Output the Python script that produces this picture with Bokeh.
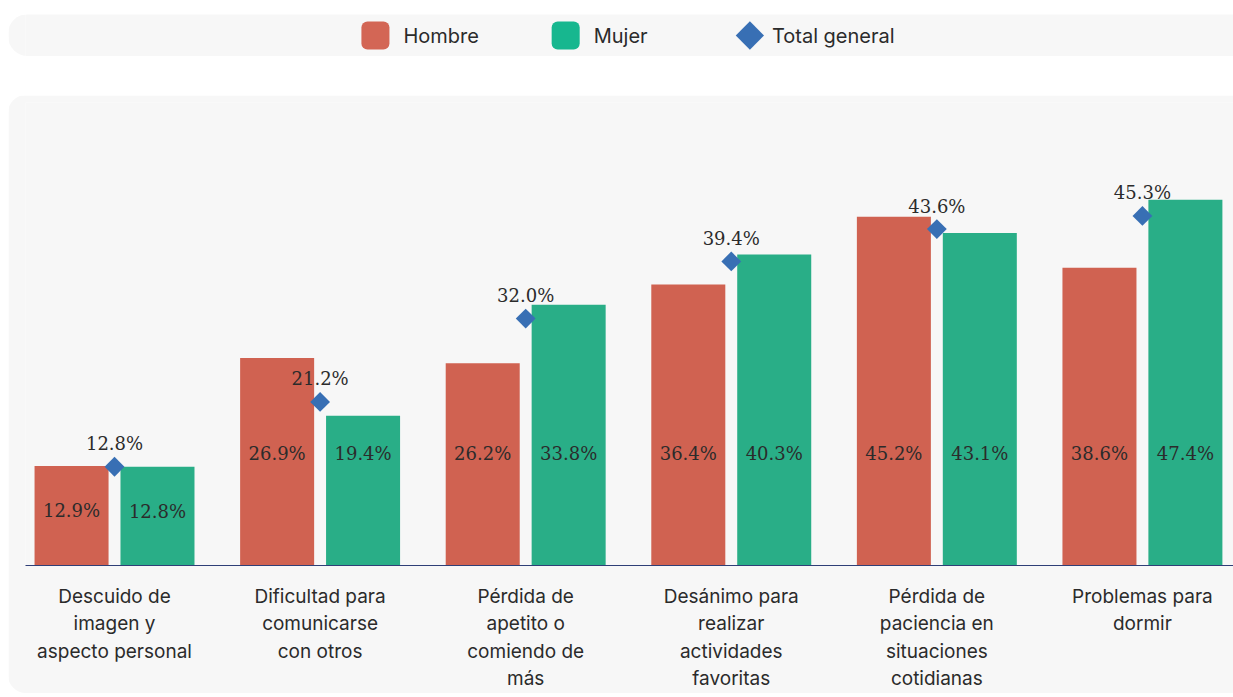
import numpy as np
from bokeh.plotting import figure
from bokeh.models import ColumnDataSource, FixedTicker, Range1d, Spacer
from bokeh.layouts import column, row
from bokeh.embed import file_html
from bokeh.resources import INLINE
from bokeh.core.properties import value

categories = [
    "Descuido de\nimagen y\naspecto personal",
    "Dificultad para\ncomunicarse\ncon otros",
    "Pérdida de\napetito o\ncomiendo de\nmás",
    "Desánimo para\nrealizar\nactividades\nfavoritas",
    "Pérdida de\npaciencia en\nsituaciones\ncotidianas",
    "Problemas para\ndormir",
]
hombre = [12.9, 26.9, 26.2, 36.4, 45.2, 38.6]
mujer = [12.8, 19.4, 33.8, 40.3, 43.1, 47.4]
total = [12.8, 21.2, 32.0, 39.4, 43.6, 45.3]
series_names = ["Hombre", "Mujer", "Total general"]

HOMBRE_C = "#d06251"
MUJER_C = "#29ae87"
HOMBRE_LEG = "#d36655"
MUJER_LEG = "#17b78f"
TOTAL_C = "#386fb4"
PANEL = "#f7f7f7"
TXT = "#2b2b2b"
SANS = "Inter"

idx = np.arange(len(categories))
h = np.array(hombre)
m = np.array(mujer)
t = np.array(total)
off = 0.209
bw = 0.36


def label_pos(v):
    return np.where(v > 18, 14.5, v * 0.55)


src = ColumnDataSource(dict(
    x=idx, xh=idx - off, xm=idx + off, h=h, m=m, t=t,
    hl=label_pos(h), ml=label_pos(m),
    htxt=[f"{v:.1f}%" for v in h], mtxt=[f"{v:.1f}%" for v in m],
    ttxt=[f"{v:.1f}%" for v in t],
))

p = figure(width=1225, height=598, x_range=Range1d(-0.433, 5.443), y_range=Range1d(0, 60),
           output_backend="svg", toolbar_location=None,
           min_border_left=17, min_border_right=0, min_border_top=7, min_border_bottom=128)
p.background_fill_color = PANEL
p.border_fill_color = PANEL
p.outline_line_color = None
p.grid.visible = False
p.yaxis.visible = False
p.styles = {"border-radius": "18px 0 0 18px", "overflow": "hidden"}

p.vbar(x="xh", top="h", width=bw, source=src, fill_color=HOMBRE_C, line_color=None)
p.vbar(x="xm", top="m", width=bw, source=src, fill_color=MUJER_C, line_color=None)
p.scatter(x="x", y="t", source=src, marker="square", angle=np.pi / 4, size=14,
          fill_color=TOTAL_C, line_color=None)

common = dict(text_align="center", text_baseline="middle", text_font=value("DejaVu Serif"),
              text_font_size="18px", text_color=TXT, source=src)
p.text(x="xh", y="hl", text="htxt", **common)
p.text(x="xm", y="ml", text="mtxt", **common)
p.text(x="x", y="t", text="ttxt", y_offset=-23, **common)

ax = p.xaxis[0]
ax.ticker = FixedTicker(ticks=list(idx))
ax.major_label_overrides = {int(i): c for i, c in zip(idx, categories)}
ax.major_label_text_font = SANS
ax.major_label_text_font_size = "19px"
ax.major_label_text_color = TXT
ax.major_label_standoff = 13
ax.major_tick_line_color = None
ax.minor_tick_line_color = None
ax.axis_line_color = "#2f3f77"
ax.axis_line_width = 1

# legend strip (x range set so that one unit is one pixel of the strip)
lf = figure(width=1225, height=42, x_range=Range1d(18.5, 1225), y_range=Range1d(0, 42),
            x_axis_type=None, y_axis_type=None,
            output_backend="svg", toolbar_location=None, min_border=0,
            min_border_left=0, min_border_right=0, min_border_top=0, min_border_bottom=0)
lf.grid.visible = False
lf.outline_line_color = None
lf.background_fill_color = PANEL
lf.border_fill_color = PANEL
lf.styles = {"border-radius": "20px 0 0 20px", "overflow": "hidden"}

sw_src = ColumnDataSource(dict(sx=[368, 558], sc=[HOMBRE_LEG, MUJER_LEG]))
tx_src = ColumnDataSource(dict(tx=[396, 586, 764], ty=[21, 21, 21], label=series_names))
lf.vbar(x="sx", bottom=7, top=35, width=28, source=sw_src, fill_color="sc",
        line_color=None, border_radius=6)
lf.scatter(x=[742], y=[21], marker="square", angle=np.pi / 4, size=20,
           fill_color=TOTAL_C, line_color=None)
lf.text(x="tx", y="ty", text="label", source=tx_src, text_align="left", text_baseline="middle",
        text_font=value(SANS), text_font_size="20px", text_color=TXT)

layout = row(Spacer(width=8, height=10),
             column(Spacer(width=1225, height=14), lf, Spacer(width=1225, height=39), p))
open("out.html", "w").write(file_html(layout, INLINE))
